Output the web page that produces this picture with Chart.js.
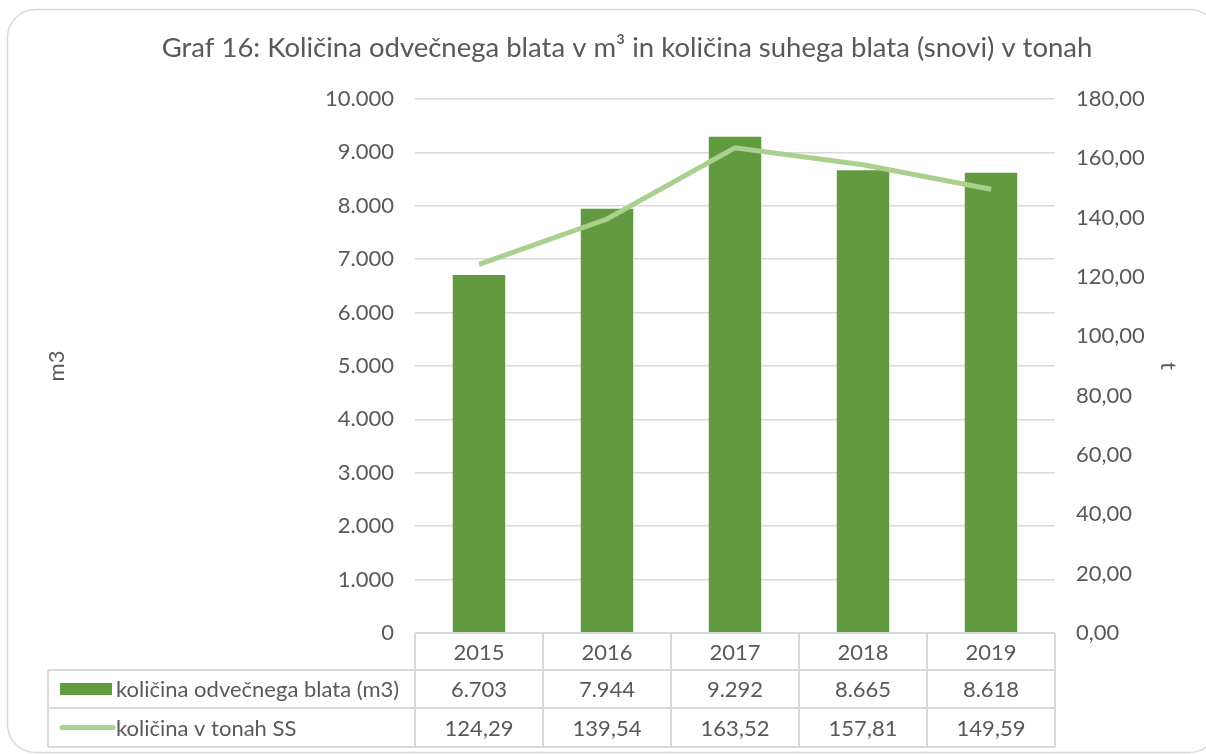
<!DOCTYPE html>
<html>
<head>
<meta charset="utf-8">
<script src="https://cdn.jsdelivr.net/npm/chart.js@4.4.1/dist/chart.umd.min.js"></script>
<style>
  html, body { margin: 0; padding: 0; background: #fff; }
  #wrap { width: 1206px; height: 754px; position: relative; }
</style>
</head>
<body>
<div id="wrap"><canvas id="graf16"></canvas></div>
<script>
// podatki
var years = ['2015', '2016', '2017', '2018', '2019'];
var sludgeM3 = [6703, 7944, 9292, 8665, 8618];
var drySolidsT = [124.29, 139.54, 163.52, 157.81, 149.59];
var seriesNames = ['količina odvečnega blata (m3)', 'količina v tonah SS'];

var textColor = '#595959';
var gridColor = '#d9d9d9';
var barColor = '#629b3f';
var lineColor = '#a9d08e';
var fontFamily = 'Lato, "Open Sans", sans-serif';
var tickSize = 22;

function fmtThousands(v) {
    return String(Math.round(v)).replace(/\B(?=(\d{3})+(?!\d))/g, '.');
}
function fmtDecimal(v) {
    return Number(v).toFixed(2).replace('.', ',');
}

// outer rounded frame
var framePlugin = {
    id: 'frame',
    beforeDraw: function (chart) {
        var ctx = chart.ctx;
        ctx.save();
        ctx.fillStyle = '#ffffff';
        ctx.fillRect(0, 0, chart.width, chart.height);
        ctx.strokeStyle = gridColor;
        ctx.lineWidth = 1.5;
        ctx.beginPath();
        ctx.roundRect(7.5, 9.5, 1210, 743, 28);
        ctx.stroke();
        ctx.restore();
    }
};

// data table under the chart (like Excel's data table)
var tablePlugin = {
    id: 'dataTable',
    afterDraw: function (chart) {
        var ctx = chart.ctx;
        var x = chart.scales.x;
        var area = chart.chartArea;
        var half = (x.getPixelForValue(1) - x.getPixelForValue(0)) / 2;
        var left = 48;
        var rows = [area.bottom, 670, 708, 747];

        ctx.save();
        ctx.strokeStyle = gridColor;
        ctx.lineWidth = 2;
        ctx.beginPath();
        ctx.moveTo(area.left, rows[0]); ctx.lineTo(area.right, rows[0]);
        for (var r = 1; r < rows.length; r++) {
            ctx.moveTo(left, rows[r]); ctx.lineTo(area.right, rows[r]);
        }
        ctx.moveTo(left, rows[1]); ctx.lineTo(left, rows[3]);
        for (var i = 0; i <= years.length; i++) {
            var vx = i < years.length ? x.getPixelForValue(i) - half : x.getPixelForValue(years.length - 1) + half;
            ctx.moveTo(vx, rows[0]); ctx.lineTo(vx, rows[3]);
        }
        ctx.stroke();

        ctx.fillStyle = textColor;
        ctx.font = tickSize + 'px ' + fontFamily;
        ctx.textAlign = 'center';
        ctx.textBaseline = 'middle';
        years.forEach(function (y, i) {
            var cx = x.getPixelForValue(i);
            ctx.fillText(y, cx, (rows[0] + rows[1]) / 2 + 1);
            ctx.fillText(fmtThousands(sludgeM3[i]), cx, (rows[1] + rows[2]) / 2 + 1);
            ctx.fillText(fmtDecimal(drySolidsT[i]), cx, (rows[2] + rows[3]) / 2 + 1);
        });

        // legend keys
        var y1 = (rows[1] + rows[2]) / 2;
        var y2 = (rows[2] + rows[3]) / 2;
        ctx.fillStyle = barColor;
        ctx.fillRect(60, y1 - 6, 52, 12);
        ctx.strokeStyle = lineColor;
        ctx.lineWidth = 5;
        ctx.lineCap = 'round';
        ctx.beginPath();
        ctx.moveTo(62, y2); ctx.lineTo(113, y2);
        ctx.stroke();

        ctx.fillStyle = textColor;
        ctx.textAlign = 'left';
        ctx.fillText(seriesNames[0], 116, y1 + 1);
        ctx.fillText(seriesNames[1], 116, y2 + 1);
        ctx.restore();
    }
};

var ctx = document.getElementById('graf16').getContext('2d');
var chart = new Chart(ctx, {
    data: {
        labels: years,
        datasets: [
            {
                type: 'line',
                label: seriesNames[1],
                data: drySolidsT,
                yAxisID: 'y1',
                borderColor: lineColor,
                borderWidth: 5,
                pointRadius: 0,
                tension: 0,
                order: 0
            },
            {
                type: 'bar',
                label: seriesNames[0],
                data: sludgeM3,
                yAxisID: 'y',
                backgroundColor: barColor,
                barPercentage: 0.41,
                categoryPercentage: 1,
                order: 1
            }
        ]
    },
    options: {
        responsive: true,
        maintainAspectRatio: false,
        animation: false,
        layout: { padding: { left: 64, right: 16, top: 0, bottom: 121 } },
        plugins: {
            legend: { display: false },
            tooltip: { enabled: false },
            title: {
                display: true,
                text: 'Graf 16: Količina odvečnega blata v m³ in količina suhega blata (snovi) v tonah',
                color: textColor,
                font: { family: fontFamily, size: 27.5, weight: 'normal' },
                padding: { top: 32, bottom: 34 }
            }
        },
        scales: {
            x: { display: false },
            y: {
                position: 'left',
                min: 0,
                max: 10000,
                ticks: {
                    stepSize: 1000,
                    color: textColor,
                    padding: 21,
                    font: { family: fontFamily, size: tickSize },
                    callback: function (v) { return fmtThousands(v); }
                },
                grid: { color: gridColor, lineWidth: 1.5, drawTicks: false },
                border: { display: false },
                title: {
                    display: true,
                    text: 'm3',
                    color: textColor,
                    font: { family: fontFamily, size: tickSize },
                    padding: { top: -20, bottom: 0 }
                },
                afterFit: function (scale) { scale.width = 351; }
            },
            y1: {
                position: 'right',
                min: 0,
                max: 180,
                ticks: {
                    stepSize: 20,
                    color: textColor,
                    padding: 21,
                    font: { family: fontFamily, size: tickSize },
                    callback: function (v) { return fmtDecimal(v); }
                },
                grid: { display: false, drawTicks: false },
                border: { display: false },
                title: {
                    display: true,
                    text: 't',
                    color: textColor,
                    font: { family: fontFamily, size: tickSize },
                    padding: { top: 9, bottom: 0 }
                },
                afterFit: function (scale) { scale.width = 135; }
            }
        }
    },
    plugins: [framePlugin, tablePlugin]
});
</script>
</body>
</html>
